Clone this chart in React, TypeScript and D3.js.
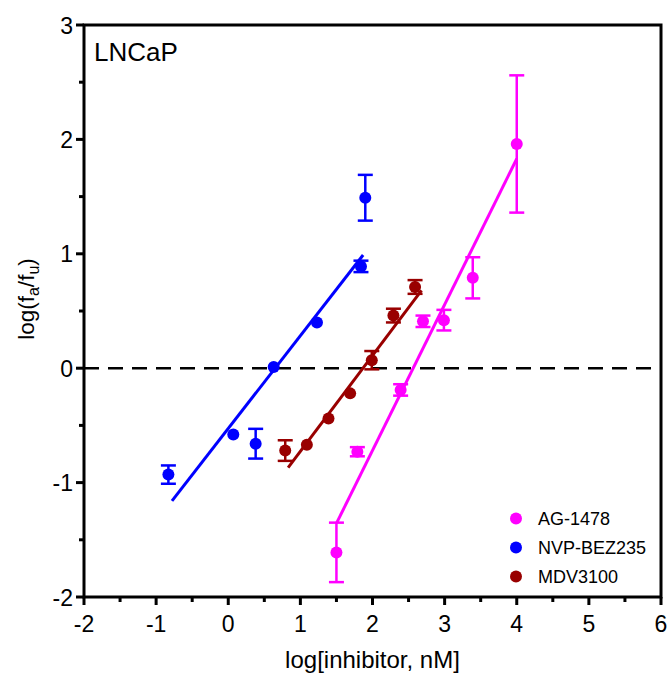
import React from "react";
import * as d3 from "d3";

const W = 668, H = 675;
const M = { left: 84, right: 661, top: 25, bottom: 597 };

const seriesNames = ["AG-1478", "NVP-BEZ235", "MDV3100"];
const seriesColors = ["#FF00FF", "#0000FF", "#990000"];

// [x, y, err]
const agData: [number, number, number][] = [
  [1.5, -1.61, 0.26], [1.79, -0.73, 0.04], [2.39, -0.19, 0.05], [2.7, 0.41, 0.05],
  [2.99, 0.42, 0.09], [3.39, 0.79, 0.18], [4.0, 1.96, 0.6],
];
const nvpData: [number, number, number][] = [
  [-0.83, -0.93, 0.08], [0.07, -0.58, 0], [0.38, -0.66, 0.13], [0.63, 0.01, 0],
  [1.23, 0.4, 0], [1.9, 1.49, 0.2], [1.84, 0.89, 0.05],
];
const mdvData: [number, number, number][] = [
  [0.79, -0.72, 0.09], [1.09, -0.67, 0], [1.39, -0.44, 0], [1.69, -0.22, 0],
  [1.99, 0.07, 0.08], [2.29, 0.46, 0.06], [2.59, 0.71, 0.06],
];
// fits: [slope, intercept, xStart, xEnd]
const fits: [number, number, number, number][] = [
  [1.275, -3.269, 1.505, 4.0],
  [0.811, -0.527, -0.78, 1.87],
  [0.838, -1.565, 0.83, 2.68],
];
const allData = [agData, nvpData, mdvData];

const xTicks = [-2, -1, 0, 1, 2, 3, 4, 5, 6];
const yTicks = [-2, -1, 0, 1, 2, 3];

export default function App() {
  const x = d3.scaleLinear().domain([-2, 6]).range([M.left, M.right]);
  const y = d3.scaleLinear().domain([-2, 3]).range([M.bottom, M.top]);
  const xMinor = d3.range(-1.5, 6, 1);
  const yMinor = d3.range(-1.5, 3, 1);
  const font = "Arial, 'Liberation Sans', sans-serif";
  return (
    <svg width={W} height={H} style={{ position: "absolute", left: 0, top: 0, background: "#fff" }} fontFamily={font}>
      <rect x={0} y={0} width={W} height={H} fill="#fff" />
      {/* dashed zero line */}
      <line x1={x(-2)} x2={x(6)} y1={y(0)} y2={y(0)} stroke="#000" strokeWidth={2.5} strokeDasharray="15 9" />
      {/* fits */}
      {fits.map((f, i) => (
        <line key={"f" + i} x1={x(f[2])} y1={y(f[0] * f[2] + f[1])} x2={x(f[3])} y2={y(f[0] * f[3] + f[1])}
          stroke={seriesColors[i]} strokeWidth={3} />
      ))}
      {/* error bars and points */}
      {allData.map((ds, i) => (
        <g key={"s" + i}>
          {ds.map((d, j) => (
            <g key={j}>
              {d[2] > 0 && (
                <g stroke={seriesColors[i]} strokeWidth={2.5}>
                  <line x1={x(d[0])} x2={x(d[0])} y1={y(d[1] - d[2])} y2={y(d[1] + d[2])} />
                  <line x1={x(d[0]) - 7.5} x2={x(d[0]) + 7.5} y1={y(d[1] - d[2])} y2={y(d[1] - d[2])} />
                  <line x1={x(d[0]) - 7.5} x2={x(d[0]) + 7.5} y1={y(d[1] + d[2])} y2={y(d[1] + d[2])} />
                </g>
              )}
              <circle cx={x(d[0])} cy={y(d[1])} r={6} fill={seriesColors[i]} />
            </g>
          ))}
        </g>
      ))}
      {/* frame */}
      <rect x={M.left} y={M.top} width={M.right - M.left} height={M.bottom - M.top} fill="none" stroke="#000" strokeWidth={3} />
      {/* x ticks */}
      {xTicks.map((t) => (
        <g key={"xt" + t}>
          <line x1={x(t)} x2={x(t)} y1={M.bottom} y2={M.bottom + 8} stroke="#000" strokeWidth={3} />
          <text x={x(t)} y={M.bottom + 35} fontSize={23} textAnchor="middle">{t}</text>
        </g>
      ))}
      {xMinor.map((t) => (
        <line key={"xm" + t} x1={x(t)} x2={x(t)} y1={M.bottom} y2={M.bottom + 5} stroke="#000" strokeWidth={3} />
      ))}
      {yTicks.map((t) => (
        <g key={"yt" + t}>
          <line x1={M.left - 8} x2={M.left} y1={y(t)} y2={y(t)} stroke="#000" strokeWidth={3} />
          <text x={M.left - 11} y={y(t) + 8.5} fontSize={23} textAnchor="end">{t}</text>
        </g>
      ))}
      {yMinor.map((t) => (
        <line key={"ym" + t} x1={M.left - 5} x2={M.left} y1={y(t)} y2={y(t)} stroke="#000" strokeWidth={3} />
      ))}
      {/* axis titles */}
      <text x={(M.left + M.right) / 2} y={668} fontSize={24} textAnchor="middle">log[inhibitor, nM]</text>
      <text transform={`translate(34, ${y(0.5) - 12}) rotate(-90)`} fontSize={22.5} textAnchor="middle">
        log(f<tspan fontSize={16} dy={5}>a</tspan><tspan dy={-5}>/f</tspan><tspan fontSize={16} dy={5}>u</tspan><tspan dy={-5}>)</tspan>
      </text>
      <text x={94} y={61} fontSize={26}>LNCaP</text>
      {/* legend */}
      {seriesNames.map((n, i) => (
        <g key={"lg" + i}>
          <circle cx={516} cy={518.5 + i * 29} r={6} fill={seriesColors[i]} />
          <text x={538} y={518.5 + i * 29 + 6.5} fontSize={18}>{n}</text>
        </g>
      ))}
    </svg>
  );
}
